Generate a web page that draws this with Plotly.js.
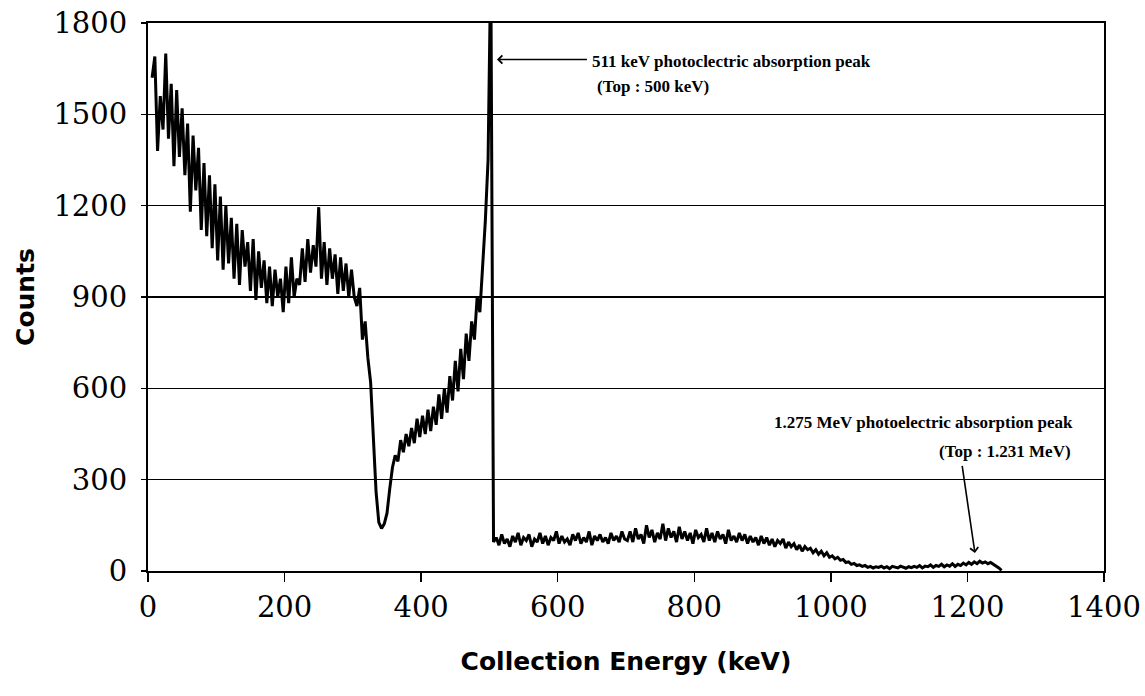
<!DOCTYPE html>
<html>
<head>
<meta charset="utf-8">
<script src="https://cdn.plot.ly/plotly-3.0.1.min.js"></script>
<style>html,body{margin:0;padding:0;background:#fff;}#chart{width:1145px;height:696px;}</style>
</head>
<body>
<div id="chart"></div>
<script>
// Spectrum counts, on a 4 keV channel grid, in segments.
// Each segment: start energy (keV) and its counts.
const segA_start = 6;
const segA = [1620,1690,1380,1560,1450,1700,1420,1600,1330,1580,1360,1520,1300,1470,1180,1430,1250,1390,1120,1340,1100,1300,1060,1270];
const segB_start = 102;
const segB = [1020,1230,990,1200,1010,1160,960,1140,940,1120,1000,1080,920,1090,890,1050,930,1020,880,1000,870,990,900,960,850];
const segC_start = 202;
const segC = [1000,880,1030,900,960,940,1060,950,1090,980,1070,1000,1195,960,1080,940,1060,960,1040,910,1030,920,1010,900,990];
const segD_start = 302;
const segD = [900,870,930,760,820,700,620,450,260,160,140,155,190,270,340];
const segE_start = 362;
const segE = [380,360,430,390,450,410,470,420,500,440,510,450,530,460,540,480,580,500,600,520,640,560,690,590,730,630,780,690,820,760,900,850,1000,1150,1350];
const peak_start = 502;
const peak = [2000];
const segF_start = 506;
const segF = [95,110,85,120,90,105,80,115,95,125,85,110,100,120,80,105,95,125,90,115,85,110,100,130,90,115,95,105,85,120,100,125,90,110,95,130,85,115,100,120,95,110,90,125,100,115,95,130,105];
const segG_start = 702;
const segG = [100,130,95,140,105,120,90,150,110,135,95,125,105,155,100,140,110,130,95,145,105,130,100,125,90,135,110,120,95,140,100,125,95,130,105,120,90,135,100,115,95,125,100,120,90,115,95,110,85,115];
const segH_start = 902;
const segH = [90,110,85,105,80,100,90,105,75,95,80,90,70,85,65,80,70,75,60,70,55,65,50,60,45];
const segI_start = 1002;
const segI = [50,40,45,35,38,28,30,22,25,18,20,15,18,12,15,10,14,12,16,10,14,8,15,12,10,16,12,9,14,11,15,12,18,10,16,14,20,12,18,15,22,14,20,16,24,15,22,18,26,20,28,22,30,24,32,26,30,24,28,22,18,10,2];
const channelWidth = 4;

const xTickVals = [0,200,400,600,800,1000,1200,1400];
const yTickVals = [0,300,600,900,1200,1500,1800];

const xTitle = "Collection Energy (keV)";
const yTitle = "Counts";
const note1a = "511 keV photoclectric absorption peak";
const note1b = "(Top : 500 keV)";
const note2a = "1.275 MeV photoelectric absorption peak";
const note2b = "(Top : 1.231 MeV)";

const segments = [[segA_start,segA],[segB_start,segB],[segC_start,segC],[segD_start,segD],[segE_start,segE],[peak_start,peak],[segF_start,segF],[segG_start,segG],[segH_start,segH],[segI_start,segI]];
const xs = [], ys = [];
segments.forEach(([s, arr]) => arr.forEach((v, i) => { xs.push(s + channelWidth * i); ys.push(v); }));

const trace = {x: xs, y: ys, type: 'scatter', mode: 'lines', line: {color: '#000', width: 3}, hoverinfo: 'x+y'};

const annFont = {family: 'Liberation Serif, Times New Roman, serif', size: 17, color: '#000', weight: 'bold'};
const layout = {
  width: 1145, height: 696,
  margin: {l: 148, r: 41, t: 23, b: 125},
  paper_bgcolor: '#fff', plot_bgcolor: '#fff',
  showlegend: false,
  font: {family: 'DejaVu Serif, serif', color: '#000'},
  xaxis: {
    range: [0, 1400], tickvals: xTickVals, ticktext: xTickVals.map(String),
    showline: true, linecolor: '#000', linewidth: 2, mirror: true,
    ticks: 'outside', ticklen: 9, tickwidth: 1.5, tickcolor: '#000',
    showgrid: false, zeroline: false,
    tickfont: {family: 'DejaVu Serif, serif', size: 29, color: '#000'},
    title: {text: xTitle, font: {family: 'DejaVu Sans, sans-serif', size: 25, color: '#000', weight: 'bold'}, standoff: 30}
  },
  yaxis: {
    range: [0, 1800], tickvals: yTickVals, ticktext: yTickVals.map(String),
    showline: true, linecolor: '#000', linewidth: 2, mirror: true,
    ticks: 'outside', ticklen: 5, tickwidth: 1.5, tickcolor: '#000',
    showgrid: true, gridcolor: '#000', gridwidth: 1.5, zeroline: false,
    tickfont: {family: 'DejaVu Serif, serif', size: 29, color: '#000'},
    ticklabelstandoff: 8,
    title: {text: yTitle, font: {family: 'DejaVu Sans, sans-serif', size: 25, color: '#000', weight: 'bold'}, standoff: 12}
  },
  annotations: [
    {x: 511, y: 1680, ax: 645, ay: 1680, xref: 'x', yref: 'y', axref: 'x', ayref: 'y', text: '', showarrow: true, arrowhead: 4, arrowsize: 1, arrowwidth: 1.6, arrowcolor: '#000'},
    {x: 648, y: 1672, xref: 'x', yref: 'y', text: note1a, showarrow: false, xanchor: 'left', yanchor: 'middle', font: annFont},
    {x: 655, y: 1590, xref: 'x', yref: 'y', text: note1b, showarrow: false, xanchor: 'left', yanchor: 'middle', font: annFont},
    {x: 1358, y: 489, xref: 'x', yref: 'y', text: note2a, showarrow: false, xanchor: 'right', yanchor: 'middle', font: annFont},
    {x: 1355, y: 394, xref: 'x', yref: 'y', text: note2b, showarrow: false, xanchor: 'right', yanchor: 'middle', font: annFont},
    {x: 1211, y: 59, ax: 1192, ay: 350, xref: 'x', yref: 'y', axref: 'x', ayref: 'y', text: '', showarrow: true, arrowhead: 4, arrowsize: 1, arrowwidth: 1.6, arrowcolor: '#000'}
  ]
};
Plotly.newPlot('chart', [trace], layout, {displayModeBar: false, staticPlot: true});
</script>
</body>
</html>
